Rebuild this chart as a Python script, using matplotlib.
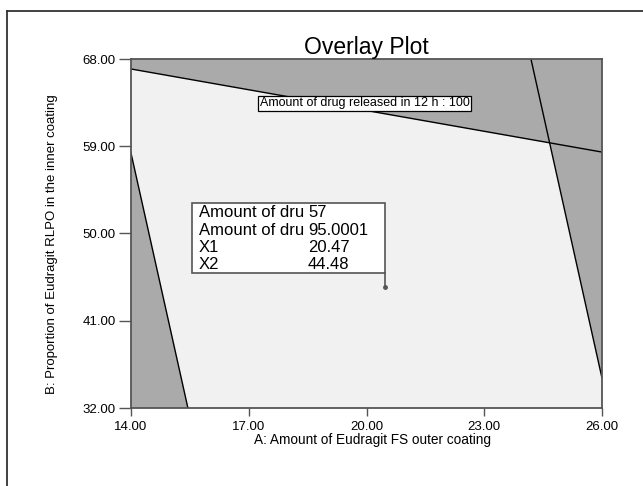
import matplotlib
matplotlib.use('Agg')
import matplotlib.pyplot as plt
from matplotlib.lines import Line2D

plt.rcParams['font.family'] = ['Liberation Sans', 'DejaVu Sans']

# constraint boundary lines
upper_x = [14.0, 26.0]
upper_y = [66.97, 58.4]
right_x = [24.19, 26.0]
right_y = [68.0, 35.08]
left_x = [14.0, 15.45]
left_y = [58.3, 32.0]

# feasible (light) region vertices
feas_x = [15.45, 14.0, 14.0, 24.67, 26.0, 26.0]
feas_y = [32.0, 58.3, 66.97, 59.33, 35.08, 32.0]

xticks = [14, 17, 20, 23, 26]
yticks = [32, 41, 50, 59, 68]

# flag point
flag_x1 = 20.47
flag_x2 = 44.48
flag_rows = [('Amount of dru', '57'), ('Amount of dru', '95.0001'),
             ('X1', '20.47'), ('X2', '44.48')]
contour_label = 'Amount of drug released in 12 h : 100'

fig = plt.figure(figsize=(6.43, 4.86), dpi=100)
ax = fig.add_axes([131/643, 78/486, 471/643, 349/486])

ax.set_facecolor('#aaaaaa')
ax.fill(feas_x, feas_y, color='#f1f1f1', lw=0, zorder=1)
for xs, ys in [(upper_x, upper_y), (right_x, right_y), (left_x, left_y)]:
    ax.plot(xs, ys, color='black', lw=1.0, zorder=2)

ax.set_xlim(14, 26)
ax.set_ylim(32, 68)
ax.set_xticks(xticks)
ax.set_yticks(yticks)
ax.set_xticklabels(['%.2f' % v for v in xticks], fontsize=9.5)
ax.set_yticklabels(['%.2f' % v for v in yticks], fontsize=9.5)
ax.tick_params(axis='x', length=6, width=1, color='#555555', pad=3)
ax.tick_params(axis='y', length=9, width=1, color='#555555', pad=2)
for s in ax.spines.values():
    s.set_color('#555555')
    s.set_linewidth(1.3)

ax.set_title('Overlay Plot', fontsize=16.5, pad=3)
fig.text(372/643, 1 - 440/486, 'A: Amount of Eudragit FS outer coating',
         ha='center', va='center', fontsize=9.8)
fig.text(52/643, 1 - 244/486, 'B: Proportion of Eudragit RLPO in the inner coating',
         ha='center', va='center', rotation=90, fontsize=9.5)

# contour label
ax.text(19.95, 63.41, contour_label, ha='center', va='center', fontsize=9,
        zorder=4, bbox=dict(boxstyle='square,pad=0.1', fc='white', ec='black', lw=0.9))

# flag box
box_w = 4.92
box_top = 53.15
box_bot = 45.93
ax.add_patch(plt.Rectangle((flag_x1 - box_w, box_bot), box_w, box_top - box_bot,
                           fc='white', ec='#555555', lw=1.2, zorder=4))
ax.plot([flag_x1, flag_x1], [box_bot, flag_x2], color='#555555', lw=1.2, zorder=4)
ax.plot(flag_x1, flag_x2, 'o', color='#555555', ms=2.5, zorder=5)
row_y = [51.70, 49.85, 48.09, 46.34]
for (lab, val), yy in zip(flag_rows, row_y):
    ax.text(15.73, yy, lab, fontsize=12, va='baseline', zorder=5)
    ax.text(18.51, yy, val, fontsize=12, va='baseline', zorder=5)

# outer frame (top and left edges visible)
fig.add_artist(Line2D([7/643, 1], [1 - 11/486, 1 - 11/486], color='#333333', lw=1.3))
fig.add_artist(Line2D([7/643, 7/643], [0, 1 - 11/486], color='#333333', lw=1.3))

fig.savefig('out.png', dpi=100)
